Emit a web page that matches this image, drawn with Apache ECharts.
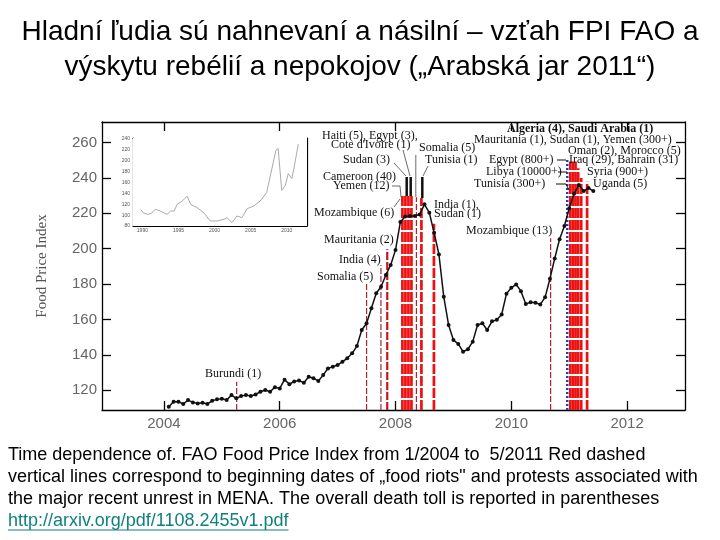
<!DOCTYPE html>
<html><head><meta charset="utf-8">
<script src="https://cdn.jsdelivr.net/npm/echarts@6/dist/echarts.min.js"></script>
<style>html,body{margin:0;padding:0;background:#fff}#c{width:720px;height:540px}</style>
</head><body><div id="c"></div>
<script>
// ---------- DATA ----------
const START_YEAR = 2004; // first monthly value = January 2004
const fpiValues = [
  110.7, 113.6, 113.6, 112.3, 114.5, 113.2, 112.6, 113.0, 112.3, 114.1, 114.9, 115.3,
  114.5, 117.3, 115.5, 116.8, 117.3, 116.8, 117.7, 119.2, 120.2, 119.2, 121.8, 121.1,
  126.0, 123.5, 125.0, 125.5, 124.3, 127.7, 126.8, 125.3, 128.6, 132.4, 133.3, 134.3,
  136.2, 138.1, 140.9, 145.0, 154.1, 157.9, 166.3, 174.8, 178.5, 185.1, 190.8, 199.3,
  215.0, 218.2, 218.4, 218.4, 219.3, 225.0, 220.3, 209.0, 196.7, 172.8, 156.9, 148.4,
  146.2, 141.8, 143.2, 147.5, 156.9, 157.9, 154.1, 159.0, 159.8, 162.8, 174.6, 177.9,
  179.8, 176.0, 168.7, 169.8, 169.5, 168.5, 172.5, 183.0, 194.5, 205.3, 212.8, 222.8,
  231.0, 236.0, 232.5, 234.3, 232.5
];
const xTickYears = [2004, 2006, 2008, 2010, 2012];
const yTickValues = [120, 140, 160, 180, 200, 220, 240, 260];

// riot / protest onset dates (decimal year) and top of their marker line (index value)
const riotDates = [2005.256, 2007.500, 2007.748, 2007.857,
  2008.119, 2008.171, 2008.223, 2008.275, 2008.361, 2008.447, 2008.663,
  2010.679, 2010.966,
  2011.019, 2011.064, 2011.109, 2011.155, 2011.207, 2011.309];
const riotTops = [124.9, 180.5, 190.7, 199.7,
  229.7, 229.7, 229.7, 229.7, 229.0, 228.6, 214.0,
  205.9, 250.1,
  249.2, 249.2, 249.2, 245.4, 239.9, 237.8];
const riotKinds = ['minor', 'minor', 'minor', 'medium',
  'major', 'major', 'major', 'major', 'minor', 'major', 'major',
  'minor', 'arab',
  'major', 'major', 'major', 'major', 'major', 'major'];

// inset: FPI 1990-2011
const insetYears = [1989.8, 1990.1, 1990.7, 1991.2, 1991.8, 1992.5, 1993.4, 1993.9, 1994.4, 1994.8,
  1995.5, 1996.2, 1996.7, 1997.6, 1998.5, 1999.4, 2000.3, 2001.3, 2001.7, 2002.4, 2003.1, 2003.8,
  2004.5, 2005.4, 2006.3, 2007.2, 2007.9, 2008.5, 2008.8, 2009.3, 2009.8, 2010.2, 2010.7, 2011.1, 2011.6];
const insetValues = [110.0, 104.5, 101.4, 103.0, 110.6, 107.5, 101.4, 107.5, 107.5, 119.7,
  125.8, 134.9, 119.7, 113.7, 104.5, 89.2, 89.2, 92.3, 95.4, 86.2, 98.4, 95.4,
  111.9, 116.6, 125.8, 141.1, 183.1, 219.7, 222.8, 145.7, 154.9, 176.3, 167.2, 194.1, 230.7];
const insetXTicks = [1990, 1995, 2000, 2005, 2010];
const insetYTicks = [80, 100, 120, 140, 160, 180, 200, 220, 240];

// ---------- STYLE / LAYOUT ----------
const SERIF = '"Liberation Serif", "DejaVu Serif", serif';
const SANS = '"Liberation Sans", Arial, sans-serif';
const Y_MIN = 108.9, Y_MAX = 271.5;
const kindStyle = {
  minor: { stroke: '#b3202a', lineWidth: 1.2, lineDash: [6, 2] },
  medium: { stroke: '#c8141c', lineWidth: 2.2, lineDash: [8, 2] },
  major: { stroke: '#ee1111', lineWidth: 2.7, lineDash: [10, 2] },
  arab: { stroke: '#1a3db8', lineWidth: 2.4, lineDash: [2, 2] }
};

const fpiSeriesData = fpiValues.map((v, i) => [START_YEAR + (i + 1) / 12, v]);
const riotData = riotDates.map((d, i) => [d, riotTops[i], i]);
const insetData = insetYears.map((y, i) => [y, insetValues[i]]);

// annotation labels (pixel layout)
const labels = [
  ['Haiti (5), Egypt (3),', 322, 136], ["Cote d'Ivoire (1)", 331, 145],
  ['Somalia (5)', 419, 148], ['Sudan (3)', 343, 160], ['Tunisia (1)', 425, 160],
  ['Cameroon (40)', 323, 177], ['Yemen (12)', 333, 186], ['Mozambique (6)', 314, 213],
  ['India (1),', 434, 205], ['Sudan (1)', 434, 214], ['Mauritania (2)', 324, 240],
  ['India (4)', 339, 260], ['Somalia (5)', 317, 277], ['Burundi (1)', 205, 374],
  ['Mozambique (13)', 466, 231],
  ['Algeria (4), Saudi Arabia (1)', 507, 129, 'bold'], ['Mauritania (1), Sudan (1), Yemen (300+)', 474, 140],
  ['Oman (2), Morocco (5)', 568, 151], ['Egypt (800+)', 489, 160], ['Iraq (29), Bahrain (31)', 569, 160],
  ['Libya (10000+)', 486, 172], ['Syria (900+)', 587, 172], ['Tunisia (300+)', 474, 184],
  ['Uganda (5)', 593, 184]
];
const leaders = [
  [[406.7, 177], [406.7, 196], '#111', 2.5], [[410.7, 177], [410.7, 196], '#111', 2.5],
  [[415.7, 155], [415.7, 197], '#999', 1.5], [[422.3, 177], [422.3, 198], '#111', 2.5],
  [[394, 163], [406, 176], '#444', 0.8], [[403, 150], [410, 176], '#444', 0.8],
  [[392, 186], [400, 186], '#444', 0.8], [[400, 186], [401, 197], '#444', 0.8],
  [[394, 207], [400, 199], '#444', 0.8], [[428, 166], [423, 176], '#444', 0.8],
  [[557, 160], [566, 160], '#111', 1], [[558, 172], [567, 172], '#111', 1],
  [[556, 184], [566, 184], '#111', 1], [[566, 184], [569, 190], '#111', 1]
];

const LINK = 'http://arxiv.org/pdf/1108.2455v1.pdf';
const graphics = [
  { type: 'text', x: 360, y: 32, style: { text: 'Hladní ľudia sú nahnevaní a násilní – vzťah FPI FAO a', font: '28px ' + SANS, fill: '#000', textAlign: 'center', textVerticalAlign: 'middle' } },
  { type: 'text', x: 360, y: 67, style: { text: 'výskytu rebélií a nepokojov („Arabská jar 2011“)', font: '28px ' + SANS, fill: '#000', textAlign: 'center', textVerticalAlign: 'middle' } },
  { type: 'text', x: 8, y: 455, style: { text: 'Time dependence of. FAO Food Price Index from 1/2004 to  5/2011 Red dashed', font: '18px ' + SANS, fill: '#000', textVerticalAlign: 'middle' } },
  { type: 'text', x: 8, y: 477, style: { text: 'vertical lines correspond to beginning dates of „food riots" and protests associated with', font: '18px ' + SANS, fill: '#000', textVerticalAlign: 'middle' } },
  { type: 'text', x: 8, y: 499, style: { text: 'the major recent unrest in MENA. The overall death toll is reported in parentheses', font: '18px ' + SANS, fill: '#000', textVerticalAlign: 'middle' } },
  { type: 'text', x: 8, y: 521, style: { text: LINK, font: '18px ' + SANS, fill: '#118080', textVerticalAlign: 'middle' } }
];
labels.forEach(([t, x, y, w]) => graphics.push({ type: 'text', x, y, z: 20,
  style: { text: t, font: (w ? w + ' ' : '') + '12px ' + SERIF, fill: '#111', textVerticalAlign: 'middle' } }));
leaders.forEach(([a, b, c, w]) => graphics.push({ type: 'line', z: 20,
  shape: { x1: a[0], y1: a[1], x2: b[0], y2: b[1] }, style: { stroke: c, lineWidth: w } }));
const measure = document.createElement('canvas').getContext('2d');
measure.font = '18px "Liberation Sans", Arial, sans-serif';
const lw = measure.measureText(LINK).width;
graphics.push({ type: 'line', shape: { x1: 8, y1: 530, x2: 8 + lw, y2: 530 }, style: { stroke: '#118080', lineWidth: 1.2 } });

const chart = echarts.init(document.getElementById('c'), null, { renderer: 'canvas' });
const axisLineStyle = { show: true, lineStyle: { color: '#000', width: 1.3 } };
chart.setOption({
  animation: false,
  backgroundColor: '#fff',
  grid: [
    { left: 102, top: 122, width: 583, height: 288, show: false },
    { left: 133, top: 138, width: 174, height: 88, show: true, backgroundColor: '#fff', borderWidth: 0, z: 5 }
  ],
  xAxis: [
    { type: 'value', gridIndex: 0, min: 2002.93, max: 2013.0, position: 'bottom',
      axisLine: axisLineStyle, splitLine: { show: false },
      axisTick: { show: true, inside: true, length: 9, customValues: xTickYears, lineStyle: { color: '#000', width: 1.3 } },
      axisLabel: { customValues: xTickYears, color: '#666', fontSize: 15, fontFamily: SANS, margin: 6, formatter: v => String(v) } },
    { type: 'value', gridIndex: 0, min: 2002.93, max: 2013.0, position: 'top',
      axisLine: axisLineStyle, splitLine: { show: false },
      axisTick: { show: true, inside: true, length: 9, customValues: xTickYears, lineStyle: { color: '#000', width: 1.3 } },
      axisLabel: { show: false } },
    { type: 'value', gridIndex: 1, min: 1988.7, max: 2012.8, position: 'bottom',
      axisLine: { show: true, lineStyle: { color: '#000', width: 1.2 } }, splitLine: { show: false },
      axisTick: { show: true, inside: true, length: 2, customValues: insetXTicks, lineStyle: { color: '#000' } },
      axisLabel: { customValues: insetXTicks, color: '#555', fontSize: 5, margin: 2, formatter: v => String(v) } },
    { type: 'value', gridIndex: 1, min: 1988.7, max: 2012.8, position: 'top',
      axisLine: { show: true, lineStyle: { color: '#000', width: 1.2 } }, splitLine: { show: false },
      axisTick: { show: false }, axisLabel: { show: false } }
  ],
  yAxis: [
    { type: 'value', gridIndex: 0, min: Y_MIN, max: Y_MAX, position: 'left',
      name: 'Food Price Index', nameLocation: 'middle', nameGap: 52, nameRotate: 90,
      nameTextStyle: { color: '#555', fontSize: 15, fontFamily: SERIF },
      axisLine: axisLineStyle, splitLine: { show: false },
      axisTick: { show: true, inside: true, length: 9, customValues: yTickValues, lineStyle: { color: '#000', width: 1.3 } },
      axisLabel: { customValues: yTickValues, color: '#666', fontSize: 15, fontFamily: SANS, margin: 5 } },
    { type: 'value', gridIndex: 0, min: Y_MIN, max: Y_MAX, position: 'right',
      axisLine: axisLineStyle, splitLine: { show: false },
      axisTick: { show: true, inside: true, length: 9, customValues: yTickValues, lineStyle: { color: '#000', width: 1.3 } },
      axisLabel: { show: false } },
    { type: 'value', gridIndex: 1, min: 80, max: 242, position: 'left',
      axisLine: { show: true, lineStyle: { color: '#000', width: 1.2 } }, splitLine: { show: false },
      axisTick: { show: true, inside: true, length: 2, customValues: insetYTicks, lineStyle: { color: '#000' } },
      axisLabel: { customValues: insetYTicks, color: '#555', fontSize: 5, margin: 3 } },
    { type: 'value', gridIndex: 1, min: 80, max: 242, position: 'right',
      axisLine: { show: true, lineStyle: { color: '#000', width: 1.2 } }, splitLine: { show: false },
      axisTick: { show: false }, axisLabel: { show: false } }
  ],
  series: [
    { type: 'custom', xAxisIndex: 0, yAxisIndex: 0, z: 2, data: riotData,
      renderItem: (params, api) => {
        const i = api.value(2);
        const top = api.coord([api.value(0), api.value(1)]);
        const bot = api.coord([api.value(0), Y_MIN]);
        const s = kindStyle[riotKinds[i]];
        return { type: 'line', shape: { x1: top[0], y1: bot[1], x2: top[0], y2: top[1] },
          style: { stroke: s.stroke, lineWidth: s.lineWidth, lineDash: s.lineDash } };
      } },
    { type: 'line', xAxisIndex: 0, yAxisIndex: 0, z: 5, data: fpiSeriesData,
      symbol: 'circle', symbolSize: 4, showSymbol: true,
      itemStyle: { color: '#111' }, lineStyle: { color: '#111', width: 1.5 } },
    { type: 'line', xAxisIndex: 2, yAxisIndex: 2, z: 6, data: insetData, symbol: 'none',
      lineStyle: { color: '#aaa', width: 1 } }
  ],
  graphic: graphics
});
</script></body></html>
